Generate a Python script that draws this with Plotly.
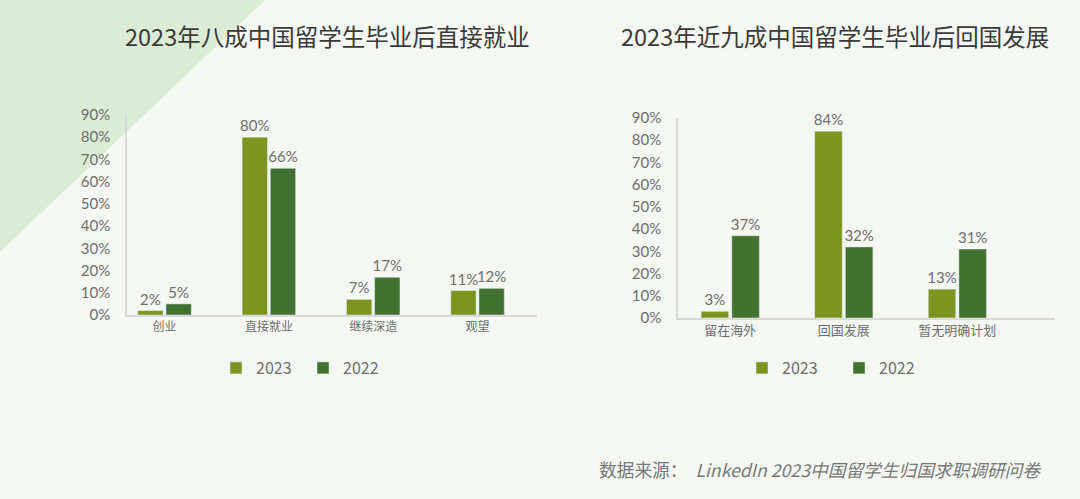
import plotly.graph_objects as go

# Data
left_categories = ["创业", "直接就业", "继续深造", "观望"]
left_2023 = [2, 80, 7, 11]
left_2022 = [5, 66, 17, 12]

right_categories = ["留在海外", "回国发展", "暂无明确计划"]
right_2023 = [3, 84, 13]
right_2022 = [37, 32, 31]

y_tickvals = [0, 10, 20, 30, 40, 50, 60, 70, 80, 90]
y_ticktext = ["0%", "10%", "20%", "30%", "40%", "50%", "60%", "70%", "80%", "90%"]

left_title = "2023年八成中国留学生毕业后直接就业"
right_title = "2023年近九成中国留学生毕业后回国发展"
source_text = "数据来源：  <i>LinkedIn 2023中国留学生归国求职调研问卷</i>"

C2023 = "#7e9421"
C2022 = "#427130"
GRAY = "#6e6e6e"
FONT = "Noto Sans CJK SC"
W, H = 1080, 499

fig = go.Figure()

def pct(v):
    return [f"{x}%" for x in v]

def bar(x, y, name, color, xa, ya, lg):
    return go.Bar(x=x, y=y, name=name, marker_color=color,
                  text=pct(y), textposition="outside", constraintext="none",
                  textfont=dict(size=15, color=GRAY, family="Lato, " + FONT),
                  cliponaxis=False, xaxis=xa, yaxis=ya, legend=lg)

fig.add_trace(bar(left_categories, left_2023, "2023", C2023, "x", "y", "legend"))
fig.add_trace(bar(left_categories, left_2022, "2022", C2022, "x", "y", "legend"))
fig.add_trace(bar(right_categories, right_2023, "2023", C2023, "x2", "y2", "legend2"))
fig.add_trace(bar(right_categories, right_2022, "2022", C2022, "x2", "y2", "legend2"))

# domains in pixels
lx0, lx1, ly0, ly1 = 127, 537, 315, 115
rx0, rx1, ry0, ry1 = 678, 1055, 318, 118

def xd(a, b):
    return [a / W, b / W]

def yd(top, bottom):
    return [1 - bottom / H, 1 - top / H]

axis_common = dict(showgrid=False, zeroline=False, showline=True, linecolor="#d9d9d9",
                   linewidth=1.5, ticks="", fixedrange=True, automargin=False)

fig.update_layout(
    width=W, height=H,
    margin=dict(l=0, r=0, t=0, b=0, pad=0, autoexpand=False),
    paper_bgcolor="#f5f8f2",
    plot_bgcolor="rgba(0,0,0,0)",
    font=dict(family=FONT, color=GRAY),
    barmode="group",
    bargap=0.46,
    bargroupgap=0.1,
    xaxis=dict(domain=xd(lx0, lx1), range=[-0.36, 3.57], anchor="y",
               tickfont=dict(size=12, color=GRAY), **axis_common),
    yaxis=dict(domain=yd(ly1, ly0), range=[0, 90], anchor="x",
               tickvals=y_tickvals, ticktext=y_ticktext, ticklabelstandoff=12,
               tickfont=dict(size=15, color=GRAY, family="Lato, " + FONT), **axis_common),
    xaxis2=dict(domain=xd(rx0, rx1), range=[-0.46, 2.86], anchor="y2",
                tickfont=dict(size=13, color=GRAY), **axis_common),
    yaxis2=dict(domain=yd(ry1, ry0), range=[0, 90], anchor="x2",
                tickvals=y_tickvals, ticktext=y_ticktext, ticklabelstandoff=12,
                tickfont=dict(size=15, color=GRAY, family="Lato, " + FONT), **axis_common),
    legend=dict(orientation="h", x=216 / W, y=1 - 368 / H, xanchor="left", yanchor="middle",
                font=dict(size=16, color=GRAY), bgcolor="rgba(0,0,0,0)",
                itemwidth=30, entrywidth=42, traceorder="normal"),
    legend2=dict(orientation="h", x=742 / W, y=1 - 368 / H, xanchor="left", yanchor="middle",
                 font=dict(size=16, color=GRAY), bgcolor="rgba(0,0,0,0)",
                 itemwidth=30, entrywidth=52, traceorder="normal"),
    shapes=[dict(type="path", xref="paper", yref="paper", layer="below",
                 path=f"M 0 1 L {265 / W} 1 L 0 {1 - 252 / H} Z",
                 fillcolor="#dcebd5", line=dict(width=0))],
    annotations=[
        dict(text=left_title, x=327 / W, y=1 - 36 / H, xref="paper", yref="paper",
             showarrow=False, xanchor="center", yanchor="middle",
             font=dict(size=23.5, color="#3a3a3a", family=FONT)),
        dict(text=right_title, x=835 / W, y=1 - 36 / H, xref="paper", yref="paper",
             showarrow=False, xanchor="center", yanchor="middle",
             font=dict(size=23.5, color="#3a3a3a", family=FONT)),
        dict(text=source_text, x=1043 / W, y=1 - 469 / H, xref="paper", yref="paper",
             showarrow=False, xanchor="right", yanchor="middle",
             font=dict(size=17.7, color="#777777", family=FONT)),
    ],
)

fig.write_html("out.html", config={"displayModeBar": False},
               post_script="document.body.style.margin='0';document.body.style.background='#f5f8f2';")
